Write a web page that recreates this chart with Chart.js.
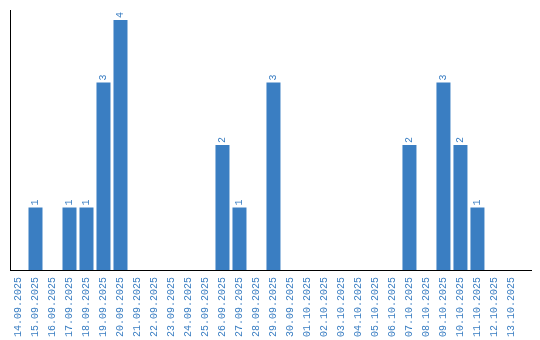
<!DOCTYPE html>
<html>
<head>
<meta charset="utf-8">
<script src="https://cdn.jsdelivr.net/npm/chart.js@4"></script>
<style>
html,body{margin:0;padding:0;background:#fff;}
#wrap{width:540px;height:340px;position:relative;}
</style>
</head>
<body>
<div id="wrap"><canvas id="c"></canvas></div>
<script>
const dates = ["14.09.2025","15.09.2025","16.09.2025","17.09.2025","18.09.2025","19.09.2025","20.09.2025","21.09.2025","22.09.2025","23.09.2025","24.09.2025","25.09.2025","26.09.2025","27.09.2025","28.09.2025","29.09.2025","30.09.2025","01.10.2025","02.10.2025","03.10.2025","04.10.2025","05.10.2025","06.10.2025","07.10.2025","08.10.2025","09.10.2025","10.10.2025","11.10.2025","12.10.2025","13.10.2025"];
const counts = [0,1,0,1,1,3,4,0,0,0,0,0,2,1,0,3,0,0,0,0,0,0,0,2,0,3,2,1,0,0];

const BLUE = '#3a7ec2';
const FONT = {family: '"Liberation Mono", "DejaVu Sans Mono", monospace', size: 10};

const valueLabels = {
  id: 'valueLabels',
  afterDatasetsDraw(chart) {
    const ctx = chart.ctx;
    const meta = chart.getDatasetMeta(0);
    ctx.save();
    ctx.fillStyle = BLUE;
    ctx.font = FONT.size + 'px ' + FONT.family;
    ctx.textAlign = 'left';
    ctx.textBaseline = 'middle';
    meta.data.forEach((bar, i) => {
      const v = counts[i];
      if (!v) return;
      ctx.save();
      ctx.translate(bar.x, bar.y - 2);
      ctx.rotate(-Math.PI / 2);
      ctx.fillText(String(v), 0, 0);
      ctx.restore();
    });
    ctx.restore();
  }
};

new Chart(document.getElementById('c'), {
  type: 'bar',
  data: {
    datasets: [{
      data: counts.map((v, i) => ({x: i, y: v})),
      backgroundColor: BLUE,
      borderWidth: 0,
      categoryPercentage: 1,
      barPercentage: 0.824
    }]
  },
  options: {
    responsive: true,
    maintainAspectRatio: false,
    animation: false,
    layout: {padding: {left: 10, top: 10, right: 9, bottom: 3}},
    plugins: {legend: {display: false}, tooltip: {enabled: false}},
    scales: {
      x: {
        type: 'linear',
        offset: false,
        min: -0.5,
        max: 30.15,
        afterBuildTicks: (s) => { s.ticks = dates.map((d, i) => ({value: i})); },
        afterFit: (s) => { s.height = 67; s.paddingLeft = 0; s.paddingRight = 0; },
        grid: {display: false, drawTicks: false, offset: false},
        border: {display: true, color: '#000', width: 1},
        ticks: {
          autoSkip: false,
          minRotation: 90,
          maxRotation: 90,
          padding: 7,
          color: BLUE,
          font: FONT,
          callback: (v) => dates[v]
        }
      },
      y: {
        min: 0,
        max: 4.16,
        grid: {display: false, drawTicks: false},
        border: {display: true, color: '#000', width: 1},
        ticks: {display: false}
      }
    }
  },
  plugins: [valueLabels]
});
</script>
</body>
</html>
